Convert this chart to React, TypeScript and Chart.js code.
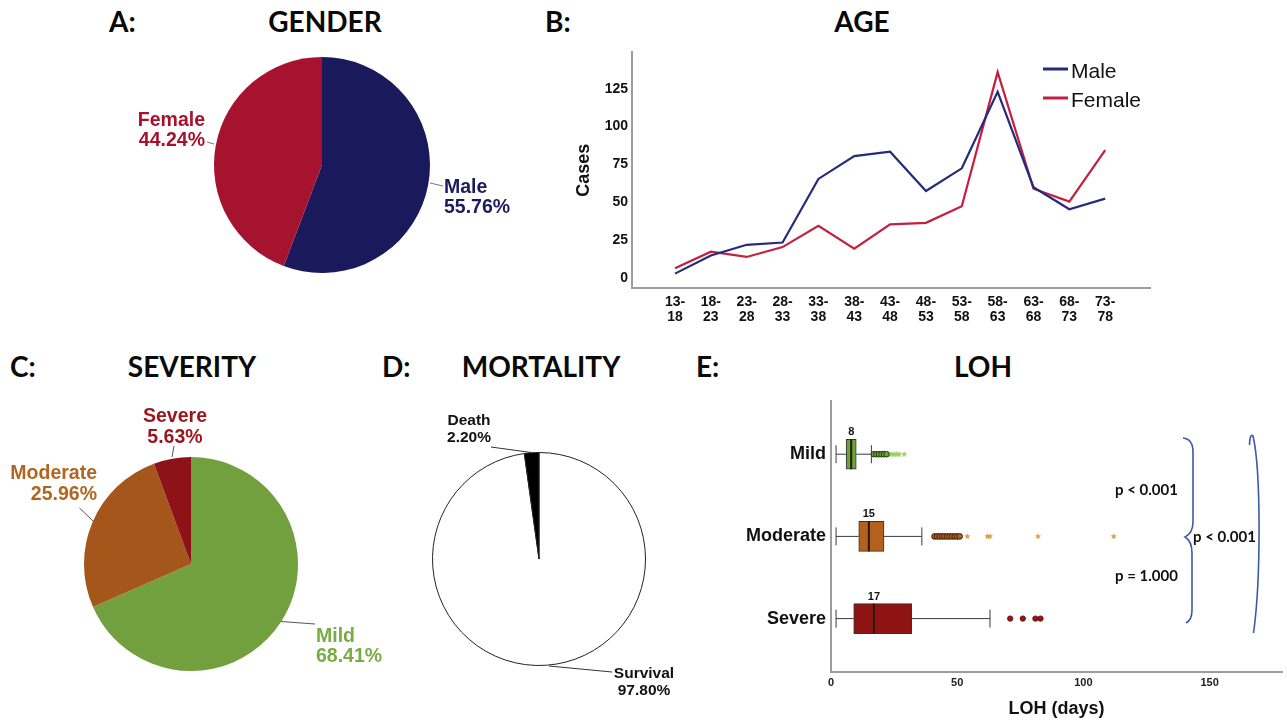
import React, { useEffect, useRef } from "react";
import { Chart, registerables } from "chart.js";

Chart.register(...registerables);

// ---------- DATA ----------
const genderLabels = ["Male", "Female"];
const genderPct = [55.76, 44.24];

const ageGroups = ["13-18", "18-23", "23-28", "28-33", "33-38", "38-43", "43-48", "48-53", "53-58", "58-63", "63-68", "68-73", "73-78"];
const maleCases = [3, 15, 22, 23.5, 65.5, 80.5, 83.5, 57.5, 72.5, 123, 60, 45.5, 52.5];
const femaleCases = [6.5, 17.5, 14, 20.5, 34.5, 19.5, 35.5, 36.5, 47.5, 136, 59, 50.5, 84.5];
const casesTicks = [0, 25, 50, 75, 100, 125];

const severityLabels = ["Mild", "Moderate", "Severe"];
const severityPct = [68.41, 25.96, 5.63];

const mortalityLabels = ["Survival", "Death"];
const mortalityPct = [97.8, 2.2];

const lohGroups = ["Mild", "Moderate", "Severe"];
const lohMin = [2, 2, 2];
const lohQ1 = [6, 11, 9];
const lohMedian = [8, 15, 17];
const lohQ3 = [10, 21, 32];
const lohMax = [16, 36, 63];
const mildOutliers = [17, 18, 19, 20, 21, 22];
const mildExtremes = [23, 24, 25, 26, 27, 29];
const moderateOutliers = [41, 42, 43, 44, 45, 46, 47, 48, 49, 50, 51];
const moderateExtremes = [54, 62, 63, 82, 112];
const severeOutliers = [71, 76, 81, 83];
const lohTicks = [0, 50, 100, 150];
const pValues = ["p < 0.001", "p = 1.000", "p < 0.001"];

// ---------- STYLE ----------
const ARIAL = '"Liberation Sans", Arial, sans-serif';
const LATO = 'Lato, "Open Sans", sans-serif';
const AXIS_GRAY = "#9c9c9c";

type LabelSpec = {
  index: number;
  x: number;
  y1: number;
  y2: number;
  align: CanvasTextAlign;
  color: string;
  size: number;
  line: [number, number, number, number];
  lineColor: string;
};

function pieLabelPlugin(offX: number, offY: number, specs: LabelSpec[]) {
  return {
    id: "pieLabels",
    afterDraw(chart: any) {
      const ctx = chart.ctx as CanvasRenderingContext2D;
      const labels = chart.data.labels as string[];
      const values = chart.data.datasets[0].data as number[];
      ctx.save();
      specs.forEach((s) => {
        ctx.strokeStyle = s.lineColor;
        ctx.lineWidth = 1;
        ctx.beginPath();
        ctx.moveTo(s.line[0] - offX, s.line[1] - offY);
        ctx.lineTo(s.line[2] - offX, s.line[3] - offY);
        ctx.stroke();
        ctx.fillStyle = s.color;
        ctx.font = `bold ${s.size}px ${ARIAL}`;
        ctx.textAlign = s.align;
        ctx.textBaseline = "middle";
        ctx.fillText(labels[s.index], s.x - offX, s.y1 - offY);
        ctx.fillText(values[s.index].toFixed(2) + "%", s.x - offX, s.y2 - offY);
      });
      ctx.restore();
    },
  };
}

function starImage(color: string, r = 3.4) {
  const size = Math.ceil(r * 2 + 2);
  const c = document.createElement("canvas");
  c.width = size;
  c.height = size;
  const g = c.getContext("2d")!;
  g.fillStyle = color;
  g.beginPath();
  for (let i = 0; i < 10; i++) {
    const ang = -Math.PI / 2 + (i * Math.PI) / 5;
    const rr = i % 2 === 0 ? r : r * 0.45;
    const x = size / 2 + rr * Math.cos(ang);
    const y = size / 2 + rr * Math.sin(ang);
    if (i === 0) g.moveTo(x, y);
    else g.lineTo(x, y);
  }
  g.closePath();
  g.fill();
  return c;
}

// ---------- CONFIGS ----------
const A = { left: 0, top: 40, width: 540, height: 270 };
function makeGender(): any {
  return {
    type: "pie",
    data: {
      labels: genderLabels,
      datasets: [{ data: genderPct, backgroundColor: ["#19195b", "#a6132e"], borderWidth: 0 }],
    },
    options: {
      responsive: false,
      animation: false,
      events: [],
      layout: { padding: { left: 214, top: 17, right: 110, bottom: 37 } },
      plugins: { legend: { display: false }, tooltip: { enabled: false } },
    },
    plugins: [
      pieLabelPlugin(A.left, A.top, [
        { index: 1, x: 205, y1: 121, y2: 141, align: "right", color: "#a8102c", size: 19.5, line: [207, 142, 214, 144], lineColor: "#777" },
        { index: 0, x: 444, y1: 188, y2: 208, align: "left", color: "#1c1b5e", size: 19.5, line: [430, 183, 443, 186], lineColor: "#777" },
      ]),
    ],
  };
}

const B = { left: 540, top: 40, width: 660, height: 300 };
function makeAge(): any {
  const legendPlugin = {
    id: "ageLegend",
    afterDraw(chart: any) {
      const ctx = chart.ctx as CanvasRenderingContext2D;
      const ys = [72, 101];
      ctx.save();
      chart.data.datasets.forEach((ds: any, i: number) => {
        const ty = ys[i] - B.top;
        ctx.strokeStyle = ds.borderColor;
        ctx.lineWidth = 3;
        ctx.beginPath();
        ctx.moveTo(1043 - B.left, ty - 3);
        ctx.lineTo(1068 - B.left, ty - 3);
        ctx.stroke();
        ctx.fillStyle = "#111";
        ctx.font = `21px ${ARIAL}`;
        ctx.textAlign = "left";
        ctx.textBaseline = "middle";
        ctx.fillText(ds.label, 1071 - B.left, ty);
      });
      ctx.restore();
    },
  };
  return {
    type: "line",
    data: {
      datasets: [
        { label: "Male", data: maleCases.map((v, i) => ({ x: i, y: v })), borderColor: "#252b7a", borderWidth: 2.2, pointRadius: 0, tension: 0 },
        { label: "Female", data: femaleCases.map((v, i) => ({ x: i, y: v })), borderColor: "#c41f3e", borderWidth: 2.2, pointRadius: 0, tension: 0 },
      ],
    },
    options: {
      responsive: false,
      animation: false,
      events: [],
      layout: { padding: { left: 0, top: 8, right: 50, bottom: 0 } },
      plugins: { legend: { display: false }, tooltip: { enabled: false } },
      scales: {
        x: {
          type: "linear",
          min: -1.2,
          max: 13.25,
          offset: false,
          border: { display: true, color: AXIS_GRAY, width: 2 },
          grid: { display: false, drawTicks: false },
          afterBuildTicks: (s: any) => {
            s.ticks = ageGroups.map((_, i) => ({ value: i }));
          },
          afterFit: (s: any) => {
            s.height = 52;
          },
          ticks: {
            autoSkip: false,
            maxRotation: 0,
            padding: 6,
            color: "#111",
            font: { family: ARIAL, size: 14, weight: "bold", lineHeight: 1.1 },
            callback: (v: number) => {
              const parts = ageGroups[v].split("-");
              return [parts[0] + "-", parts[1]];
            },
          },
        },
        y: {
          type: "linear",
          min: -6.5,
          max: 149,
          offset: false,
          border: { display: true, color: AXIS_GRAY, width: 2 },
          grid: { display: false, drawTicks: false },
          afterBuildTicks: (s: any) => {
            s.ticks = casesTicks.map((v) => ({ value: v }));
          },
          afterFit: (s: any) => {
            s.width = 92;
          },
          ticks: { padding: 4, color: "#111", font: { family: ARIAL, size: 14, weight: "bold" } },
          title: {
            display: true,
            text: "Cases",
            color: "#111",
            font: { family: ARIAL, size: 18, weight: "bold" },
            padding: { top: 33, bottom: 0 },
          },
        },
      },
    },
    plugins: [legendPlugin],
  };
}

const C = { left: 0, top: 390, width: 400, height: 334 };
function makeSeverity(): any {
  return {
    type: "pie",
    data: {
      labels: severityLabels,
      datasets: [{ data: severityPct, backgroundColor: ["#72a03f", "#a4561b", "#8e1318"], borderWidth: 0 }],
    },
    options: {
      responsive: false,
      animation: false,
      events: [],
      layout: { padding: { left: 84, top: 67, right: 102, bottom: 53 } },
      plugins: { legend: { display: false }, tooltip: { enabled: false } },
    },
    plugins: [
      pieLabelPlugin(C.left, C.top, [
        { index: 2, x: 175, y1: 417, y2: 438, align: "center", color: "#9a141c", size: 19.5, line: [174, 446, 172, 457], lineColor: "#555" },
        { index: 1, x: 97, y1: 474, y2: 494.5, align: "right", color: "#b1651f", size: 19.5, line: [79.5, 508, 94, 522], lineColor: "#555" },
        { index: 0, x: 316, y1: 637, y2: 657, align: "left", color: "#78ad44", size: 19.5, line: [281, 621.5, 315, 624], lineColor: "#555" },
      ]),
    ],
  };
}

const D = { left: 400, top: 390, width: 300, height: 334 };
function makeMortality(): any {
  return {
    type: "pie",
    data: {
      labels: mortalityLabels,
      datasets: [{ data: mortalityPct, backgroundColor: ["#ffffff", "#000000"], borderColor: "#222", borderWidth: 1 }],
    },
    options: {
      responsive: false,
      animation: false,
      events: [],
      layout: { padding: { left: 32, top: 62, right: 54, bottom: 58 } },
      plugins: { legend: { display: false }, tooltip: { enabled: false } },
    },
    plugins: [
      pieLabelPlugin(D.left, D.top, [
        { index: 1, x: 469, y1: 421, y2: 437.5, align: "center", color: "#111", size: 15.5, line: [491, 447, 531, 452.5], lineColor: "#333" },
        { index: 0, x: 644, y1: 673.5, y2: 691, align: "center", color: "#111", size: 15.5, line: [549, 666, 612, 672], lineColor: "#333" },
      ]),
    ],
  };
}

const E = { left: 700, top: 385, width: 587, height: 339 };
function makeLoh(): any {
  const boxColors = ["#6da33a", "#b3611d", "#8e1414"];
  const whiskerPlugin = {
    id: "whiskers",
    beforeDatasetsDraw(chart: any) {
      const ctx = chart.ctx as CanvasRenderingContext2D;
      const xs = chart.scales.x;
      const ys = chart.scales.y;
      ctx.save();
      ctx.strokeStyle = "#3a3a3a";
      ctx.lineWidth = 1;
      lohGroups.forEach((_, i) => {
        const y = ys.getPixelForValue(i);
        const pMin = xs.getPixelForValue(lohMin[i]);
        const pQ1 = xs.getPixelForValue(lohQ1[i]);
        const pQ3 = xs.getPixelForValue(lohQ3[i]);
        const pMax = xs.getPixelForValue(lohMax[i]);
        ctx.beginPath();
        ctx.moveTo(pMin, y);
        ctx.lineTo(pQ1, y);
        ctx.moveTo(pQ3, y);
        ctx.lineTo(pMax, y);
        ctx.moveTo(pMin, y - 9);
        ctx.lineTo(pMin, y + 9);
        ctx.moveTo(pMax, y - 9);
        ctx.lineTo(pMax, y + 9);
        ctx.stroke();
      });
      ctx.restore();
    },
    afterDatasetsDraw(chart: any) {
      const ctx = chart.ctx as CanvasRenderingContext2D;
      const xs = chart.scales.x;
      const ys = chart.scales.y;
      ctx.save();
      lohGroups.forEach((_, i) => {
        const y = ys.getPixelForValue(i);
        const pMed = xs.getPixelForValue(lohMedian[i]);
        ctx.strokeStyle = "#2a1810";
        ctx.lineWidth = 2;
        ctx.beginPath();
        ctx.moveTo(pMed, y - 15);
        ctx.lineTo(pMed, y + 15);
        ctx.stroke();
        ctx.fillStyle = "#111";
        ctx.font = `bold 11px ${ARIAL}`;
        ctx.textAlign = "center";
        ctx.textBaseline = "middle";
        ctx.fillText(String(lohMedian[i]), pMed, y - 22);
      });
      ctx.restore();
    },
    afterDraw(chart: any) {
      const ctx = chart.ctx as CanvasRenderingContext2D;
      const ox = E.left;
      const oy = E.top;
      ctx.save();
      ctx.fillStyle = "#111";
      ctx.font = `bold 15px ${LATO}`;
      ctx.textAlign = "center";
      ctx.textBaseline = "middle";
      ctx.fillText(pValues[0], 1146.5 - ox, 490 - oy);
      ctx.fillText(pValues[1], 1146.5 - ox, 576 - oy);
      ctx.fillText(pValues[2], 1224.5 - ox, 537 - oy);
      ctx.strokeStyle = "#3c5aa6";
      ctx.lineWidth = 1.6;
      ctx.beginPath();
      ctx.moveTo(1183 - ox, 438 - oy);
      ctx.quadraticCurveTo(1193 - ox, 439 - oy, 1193 - ox, 452 - oy);
      ctx.lineTo(1193 - ox, 522 - oy);
      ctx.quadraticCurveTo(1193 - ox, 533 - oy, 1185 - ox, 537 - oy);
      ctx.quadraticCurveTo(1192 - ox, 541 - oy, 1192 - ox, 553 - oy);
      ctx.lineTo(1192 - ox, 610 - oy);
      ctx.quadraticCurveTo(1192 - ox, 620 - oy, 1186 - ox, 623 - oy);
      ctx.stroke();
      ctx.beginPath();
      ctx.moveTo(1249.5 - ox, 445 - oy);
      ctx.quadraticCurveTo(1250 - ox, 433 - oy, 1253 - ox, 436 - oy);
      ctx.bezierCurveTo(1261 - ox, 470 - oy, 1261 - ox, 580 - oy, 1253.5 - ox, 633 - oy);
      ctx.stroke();
      ctx.restore();
    },
  };
  const pts = (vals: number[], idx: number) => vals.map((v) => ({ x: v, y: idx }));
  return {
    type: "scatter",
    data: {
      datasets: [
        {
          type: "bar",
          indexAxis: "y",
          data: lohGroups.map((_, i) => ({ y: i, x: [lohQ1[i], lohQ3[i]] })),
          backgroundColor: boxColors,
          borderColor: "#333",
          borderWidth: 1,
          borderSkipped: false,
          barThickness: 30,
        },
        { data: pts(mildOutliers, 0), pointStyle: "circle", pointRadius: 2.8, backgroundColor: "#6da33a", borderColor: "#26360f", borderWidth: 1 },
        { data: pts(mildExtremes, 0), pointStyle: starImage("#9ccd5c", 3.3), pointRadius: 3 },
        { data: pts(moderateOutliers, 1), pointStyle: "circle", pointRadius: 2.8, backgroundColor: "#b3611d", borderColor: "#3a1f08", borderWidth: 1 },
        { data: pts(moderateExtremes, 1), pointStyle: starImage("#d9a04a", 3.3), pointRadius: 3 },
        { data: pts(severeOutliers, 2), pointStyle: "circle", pointRadius: 2.7, backgroundColor: "#9a1212", borderColor: "#5a0a0a", borderWidth: 0.8 },
      ],
    },
    options: {
      responsive: false,
      animation: false,
      events: [],
      layout: { padding: { left: 0, top: 8, right: 2, bottom: 0 } },
      plugins: { legend: { display: false }, tooltip: { enabled: false } },
      scales: {
        x: {
          type: "linear",
          min: 0,
          max: 178.7,
          offset: false,
          border: { display: true, color: AXIS_GRAY, width: 2 },
          grid: { display: false, drawTicks: false, offset: false },
          afterBuildTicks: (s: any) => {
            s.ticks = lohTicks.map((v) => ({ value: v }));
          },
          afterFit: (s: any) => {
            s.height = 52;
          },
          ticks: { padding: 4, color: "#222", font: { family: ARIAL, size: 11, weight: "bold" } },
          title: {
            display: true,
            text: "LOH (days)",
            color: "#111",
            font: { family: ARIAL, size: 18, weight: "bold" },
            padding: { top: 0, bottom: 4 },
          },
        },
        y: {
          type: "linear",
          min: -0.65,
          max: 2.65,
          reverse: true,
          offset: false,
          border: { display: true, color: AXIS_GRAY, width: 2 },
          grid: { display: false, drawTicks: false, offset: false },
          afterBuildTicks: (s: any) => {
            s.ticks = lohGroups.map((_, i) => ({ value: i }));
          },
          afterFit: (s: any) => {
            s.width = 131;
          },
          ticks: {
            padding: 5,
            color: "#111",
            font: { family: ARIAL, size: 18, weight: "bold" },
            callback: (v: number) => lohGroups[v],
          },
        },
      },
    },
    plugins: [whiskerPlugin],
  };
}

// ---------- COMPONENTS ----------
function ChartBox({ box, make }: { box: { left: number; top: number; width: number; height: number }; make: () => any }) {
  const ref = useRef<HTMLCanvasElement>(null);
  useEffect(() => {
    const chart = new Chart(ref.current!, make());
    return () => chart.destroy();
  }, []);
  return (
    <canvas
      ref={ref}
      width={box.width}
      height={box.height}
      style={{ position: "absolute", left: box.left, top: box.top, width: box.width, height: box.height }}
    />
  );
}

const titleStyle: React.CSSProperties = {
  position: "absolute",
  fontFamily: LATO,
  fontWeight: 700,
  fontSize: 28,
  lineHeight: "34px",
  color: "#0a0a0a",
  whiteSpace: "nowrap",
};

function Title({ text, x, y, center }: { text: string; x: number; y: number; center?: boolean }) {
  const top = y - 17.7;
  if (center) {
    return <div style={{ ...titleStyle, left: x - 150, width: 300, top, textAlign: "center" }}>{text}</div>;
  }
  return <div style={{ ...titleStyle, left: x, top }}>{text}</div>;
}

export default function App() {
  return (
    <div style={{ position: "absolute", left: 0, top: 0, width: 1287, height: 724, background: "#fff", overflow: "hidden" }}>
      <Title text="A:" x={109} y={22} />
      <Title text="GENDER" x={325} y={22} center />
      <Title text="B:" x={545} y={22} />
      <Title text="AGE" x={862} y={22} center />
      <Title text="C:" x={10} y={367} />
      <Title text="SEVERITY" x={192} y={367} center />
      <Title text="D:" x={382} y={367} />
      <Title text="MORTALITY" x={541} y={367} center />
      <Title text="E:" x={696} y={367} />
      <Title text="LOH" x={983} y={367} center />
      <ChartBox box={A} make={makeGender} />
      <ChartBox box={B} make={makeAge} />
      <ChartBox box={C} make={makeSeverity} />
      <ChartBox box={D} make={makeMortality} />
      <ChartBox box={E} make={makeLoh} />
    </div>
  );
}
